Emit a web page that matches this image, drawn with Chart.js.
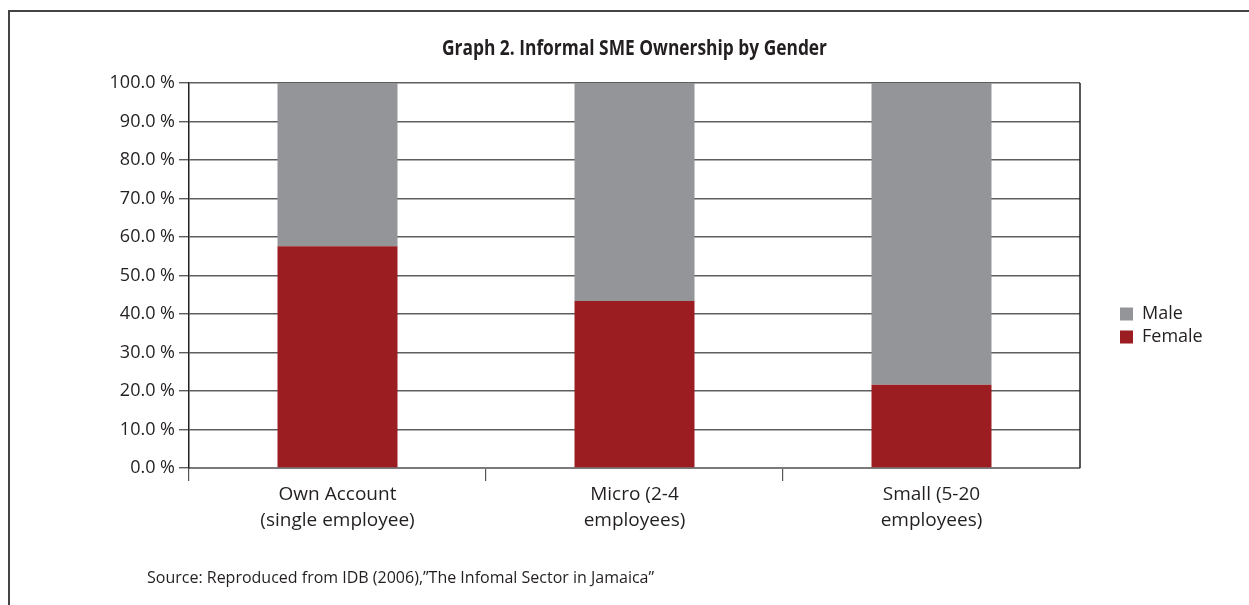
<!DOCTYPE html>
<html>
<head>
<meta charset="utf-8">
<script src="https://cdn.jsdelivr.net/npm/chart.js@4"></script>
<style>
  html, body { margin: 0; padding: 0; background: #fff; overflow: hidden; }
  #wrap { position: relative; width: 1249px; height: 605px; }
  #frame { position: absolute; left: 8px; top: 10px; width: 1400px; height: 800px; border: 2px solid #444; box-sizing: border-box; }
  canvas { position: absolute; left: 0; top: 0; }
</style>
</head>
<body>
<div id="wrap">
  <div id="frame"></div>
  <canvas id="c" width="1249" height="605"></canvas>
</div>
<script>
const categories = [
  ['Own Account', '(single employee)'],
  ['Micro (2-4', 'employees)'],
  ['Small (5-20', 'employees)']
];
const femaleValues = [57.6, 43.4, 21.6];
const maleValues = [42.4, 56.6, 78.4];
const yTicks = [0, 10, 20, 30, 40, 50, 60, 70, 80, 90, 100];
const titleText = 'Graph 2. Informal SME Ownership by Gender';
const sourceText = 'Source: Reproduced from IDB (2006),\u201DThe Infomal Sector in Jamaica\u201D';

const TEXT = '#231f20';
const BODY_FONT = "'Open Sans', 'Noto Sans', sans-serif";
const TITLE_WIDTH = 385;

const framePlugin = {
  id: 'framePlugin',
  afterLayout(chart) {
    const ca = chart.chartArea;
    const lg = chart.legend;
    if (lg) {
      const w = lg.width, h = lg.height;
      lg.left = ca.right + 35;
      lg.right = lg.left + w;
      lg.top = 300;
      lg.bottom = lg.top + h;
    }
  },
  afterDraw(chart) {
    const ctx = chart.ctx;
    const ca = chart.chartArea;
    ctx.save();
    // right border of plot area
    ctx.strokeStyle = TEXT;
    ctx.lineWidth = 1.5;
    ctx.beginPath();
    ctx.moveTo(ca.right, ca.top);
    ctx.lineTo(ca.right, ca.bottom);
    ctx.stroke();
    // title (condensed bold)
    ctx.fillStyle = TEXT;
    ctx.font = "bold 22px " + BODY_FONT;
    ctx.textBaseline = 'middle';
    ctx.textAlign = 'center';
    const w = ctx.measureText(titleText).width;
    const sx = TITLE_WIDTH / w;
    const cx = (ca.left + ca.right) / 2;
    ctx.save();
    ctx.translate(cx, 49);
    ctx.scale(sx, 1);
    ctx.fillText(titleText, 0, 0);
    ctx.restore();
    // source note
    ctx.font = "16px " + BODY_FONT;
    ctx.textAlign = 'left';
    ctx.fillText(sourceText, ca.left - 42, 578);
    ctx.restore();
  }
};

new Chart(document.getElementById('c'), {
  type: 'bar',
  data: {
    labels: categories,
    datasets: [
      { label: 'Female', data: femaleValues, backgroundColor: '#9b1d21', borderWidth: 0,
        barPercentage: 0.404, categoryPercentage: 1.0 },
      { label: 'Male', data: maleValues, backgroundColor: '#939598', borderWidth: 0,
        barPercentage: 0.404, categoryPercentage: 1.0 }
    ]
  },
  options: {
    responsive: false,
    animation: false,
    layout: { padding: { left: 0, right: 169, top: 83, bottom: 0 } },
    plugins: {
      title: { display: false },
      legend: {
        position: 'chartArea',
        align: 'start',
        reverse: true,
        labels: {
          boxWidth: 13,
          boxHeight: 13,
          padding: 5,
          color: TEXT,
          font: { family: BODY_FONT, size: 18 }
        }
      },
      tooltip: { enabled: false }
    },
    scales: {
      x: {
        stacked: true,
        afterFit(scale) { scale.height = 137; },
        grid: {
          display: true, drawOnChartArea: false, drawTicks: true, tickLength: 13, lineWidth: 1.2, offset: true,
          color: c => (c.type === 'tick' ? '#555' : 'rgba(0,0,0,0)')
        },
        border: { display: true, color: '#7a7a7a', width: 2 },
        ticks: { color: TEXT, padding: 1, font: { family: BODY_FONT, size: 19, lineHeight: 1.37 }, maxRotation: 0, autoSkip: false }
      },
      y: {
        stacked: true,
        min: 0,
        max: 100,
        afterFit(scale) { scale.width = 189; },
        afterBuildTicks(scale) { scale.ticks = yTicks.map(v => ({ value: v })); },
        grid: { color: '#5e5e5e', lineWidth: 1.4, tickLength: 10 },
        border: { display: true, color: TEXT, width: 1.5 },
        ticks: {
          color: TEXT,
          padding: 4,
          font: { family: BODY_FONT, size: 18 },
          callback: v => v.toFixed(1) + ' %'
        }
      }
    }
  },
  plugins: [framePlugin]
});
</script>
</body>
</html>
